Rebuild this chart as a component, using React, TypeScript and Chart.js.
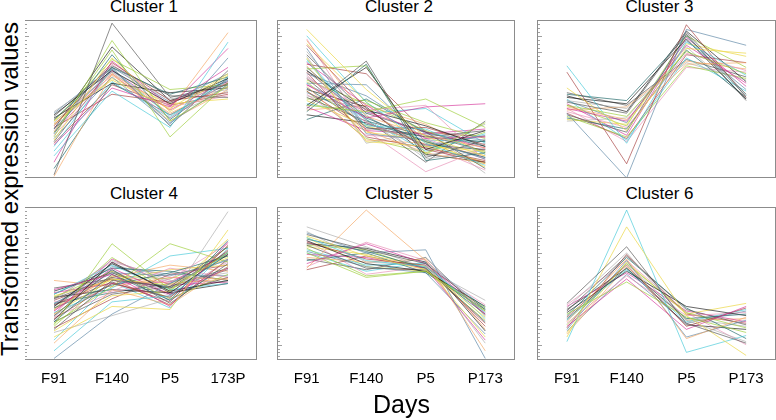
import React, { useEffect, useRef } from 'react';
import { Chart, registerables } from 'chart.js';
Chart.register(...registerables);

// ---------- data ----------
const daysTop = ['F91', 'F140', 'P5', 'P173'];
const daysC4 = ['F91', 'F140', 'P5', '173P'];
const daysC5 = ['F91', 'F140', 'P5', 'P173'];
const daysC6 = ['F91', 'F140', 'P5', 'P173'];

const titles = ['Cluster 1', 'Cluster 2', 'Cluster 3', 'Cluster 4', 'Cluster 5', 'Cluster 6'];
const yTitle = 'Transformed expression values';
const xTitle = 'Days';

const yMin = 0;
const yMax = 10;
const yMinorStep = 0.25;

// each row: value at F91, F140, P5, P173
const cluster1 = [
  [0.2, 9.8, 5.1, 5.9], [2.6, 8.7, 3.6, 5.8], [2.4, 7.6, 4.2, 6.5], [1.4, 5.5, 3.2, 8.6],
  [2.1, 5.7, 4.5, 8.2], [0.1, 6.6, 4.3, 9.2], [3.7, 7.0, 5.3, 6.4], [4.0, 6.8, 4.7, 6.3],
  [3.3, 7.3, 4.9, 5.4], [3.1, 6.9, 3.5, 5.9], [2.7, 6.6, 3.8, 6.1], [3.5, 6.7, 5.0, 5.6],
  [3.9, 7.1, 5.2, 5.1], [2.9, 8.1, 2.6, 6.0], [3.6, 6.2, 4.4, 6.6], [2.0, 6.9, 3.9, 6.2],
  [1.0, 7.4, 4.6, 7.0], [3.4, 6.5, 4.1, 5.8], [2.8, 7.8, 3.7, 6.3], [3.8, 6.0, 5.4, 5.7],
  [3.2, 5.3, 4.8, 6.0], [2.5, 6.4, 3.4, 7.6], [3.0, 7.2, 4.5, 5.2], [4.2, 6.7, 4.0, 5.5],
  [2.3, 7.0, 3.3, 6.8], [3.6, 7.5, 5.6, 5.9], [3.4, 6.3, 4.7, 5.0], [1.7, 6.1, 3.8, 6.4],
  [2.9, 6.8, 4.3, 6.2], [3.7, 6.6, 3.6, 5.6], [0.6, 6.0, 4.0, 6.0], [3.1, 8.3, 4.9, 6.1],
  [2.2, 5.9, 4.6, 5.3], [4.1, 7.0, 4.8, 6.6],
];

const cluster2 = [
  [4.4, 7.4, 1.3, 2.4], [4.6, 4.2, 5.0, 3.2], [9.4, 5.6, 2.6, 1.4], [9.0, 4.8, 2.2, 0.8],
  [5.9, 3.8, 4.5, 4.7], [8.7, 3.9, 2.7, 1.9], [4.2, 7.2, 1.1, 1.6], [4.6, 7.0, 1.8, 3.0],
  [8.4, 4.4, 1.8, 1.0], [8.2, 2.8, 2.4, 1.2], [6.3, 4.3, 4.6, 1.1], [8.0, 3.6, 1.4, 2.2],
  [7.8, 4.1, 2.9, 0.6], [6.9, 7.1, 1.5, 3.5], [7.6, 2.3, 2.0, 1.7], [7.5, 3.3, 3.1, 1.5],
  [7.3, 4.6, 2.5, 2.6], [7.1, 3.0, 1.6, 0.9], [7.0, 3.8, 2.3, 1.3], [6.8, 4.3, 3.3, 2.0],
  [6.7, 2.6, 1.9, 1.1], [6.6, 5.2, 2.8, 2.4], [6.5, 3.5, 2.1, 0.5], [6.4, 4.0, 1.2, 1.8],
  [6.3, 3.2, 2.6, 3.0], [6.2, 4.7, 3.0, 1.6], [6.1, 2.9, 2.4, 0.7], [6.0, 3.7, 1.7, 2.8],
  [5.9, 4.2, 2.9, 1.9], [5.8, 2.4, 2.2, 1.4], [5.7, 3.4, 2.6, 2.3], [5.6, 4.5, 1.5, 1.0],
  [5.5, 3.1, 3.2, 2.1], [5.4, 3.9, 2.0, 2.7], [5.3, 2.7, 2.5, 1.2], [5.2, 4.4, 1.9, 3.4],
  [5.1, 3.6, 2.7, 1.7], [5.0, 4.9, 3.5, 2.5], [4.9, 3.3, 2.3, 0.9], [4.7, 4.1, 4.4, 2.2],
  [4.5, 3.0, 2.8, 3.1], [4.3, 4.6, 3.4, 1.5], [3.7, 5.0, 2.9, 2.0], [4.0, 3.5, 2.1, 1.8],
  [7.2, 6.6, 2.9, 2.6], [6.0, 5.9, 2.3, 1.3], [8.8, 3.0, 0.4, 1.9], [7.7, 2.2, 3.0, 0.3],
  [6.8, 3.7, 1.0, 3.6], [5.5, 2.5, 1.6, 2.9], [8.5, 4.8, 2.0, 1.0], [7.4, 3.2, 2.4, 2.3],
];

const cluster3 = [
  [4.8, 4.1, 9.2, 5.3], [4.6, 3.9, 8.0, 6.6], [5.7, 3.0, 8.2, 7.9], [7.1, 2.2, 8.6, 6.5],
  [4.4, 3.6, 8.4, 6.0], [4.5, 3.7, 7.2, 7.3], [5.3, 4.9, 9.0, 5.2], [5.1, 4.7, 8.8, 5.0],
  [6.7, 0.9, 9.7, 5.1], [4.1, 0.0, 9.4, 8.4], [4.2, 3.2, 7.9, 6.8], [4.9, 4.4, 7.3, 6.2],
  [4.0, 2.9, 9.1, 4.9], [3.9, 2.6, 7.1, 6.3], [3.7, 3.4, 8.5, 7.7], [5.0, 2.4, 7.6, 5.5],
  [4.7, 2.7, 8.9, 5.8], [4.3, 4.5, 7.4, 6.9], [3.8, 3.1, 8.1, 5.1], [5.2, 4.2, 9.3, 6.1],
  [4.1, 2.5, 7.8, 7.3], [4.9, 3.5, 8.7, 5.6], [4.4, 2.3, 7.0, 6.7], [3.6, 3.8, 8.3, 5.0],
  [5.4, 4.6, 7.5, 6.4], [4.6, 3.3, 9.0, 7.0],
];

const cluster4 = [
  [2.0, 5.2, 4.8, 7.4], [2.3, 7.6, 4.6, 7.0], [1.5, 3.5, 3.3, 8.5], [0.6, 3.8, 4.2, 7.0],
  [4.6, 5.6, 3.5, 7.7], [1.1, 4.6, 3.6, 6.1], [2.5, 5.6, 3.9, 7.8], [2.6, 6.4, 4.4, 6.9],
  [2.7, 5.0, 4.1, 7.2], [0.1, 3.0, 5.0, 6.6], [2.8, 4.4, 5.3, 7.6], [1.8, 2.9, 4.0, 9.7],
  [2.9, 5.9, 3.7, 6.3], [2.4, 4.8, 7.6, 6.4], [3.0, 5.3, 4.9, 6.7], [3.1, 4.7, 6.8, 7.3],
  [3.2, 6.0, 4.3, 6.0], [3.3, 5.5, 5.0, 5.3], [3.4, 4.9, 5.7, 6.8], [3.5, 6.3, 4.5, 5.2],
  [3.6, 5.1, 3.8, 7.5], [3.7, 5.7, 5.5, 6.5], [3.8, 4.5, 6.0, 5.4], [3.9, 6.5, 5.2, 5.1],
  [4.0, 5.4, 4.7, 7.1], [4.1, 5.8, 4.0, 5.6], [4.2, 5.2, 5.9, 6.2], [4.3, 6.2, 4.6, 5.0],
  [4.4, 5.0, 5.1, 6.9], [5.2, 4.8, 5.4, 5.3], [4.3, 6.0, 5.8, 5.2], [4.1, 4.6, 4.4, 5.0],
  [3.9, 5.3, 3.6, 6.6], [3.6, 6.1, 5.6, 5.5], [3.2, 5.8, 4.2, 6.4], [2.8, 6.3, 5.1, 5.7],
  [2.5, 4.3, 4.8, 6.0], [2.2, 5.5, 5.3, 6.8], [1.9, 4.2, 4.5, 7.9], [1.3, 5.1, 3.4, 7.3],
  [3.0, 6.6, 4.9, 5.1], [3.4, 5.4, 6.2, 5.8], [3.7, 4.4, 5.0, 7.0], [4.5, 5.7, 4.3, 5.4],
  [2.1, 4.0, 5.6, 6.2], [3.5, 5.9, 3.9, 6.1], [4.0, 6.4, 5.4, 5.0], [2.9, 5.0, 4.1, 6.5],
  [4.7, 5.3, 4.7, 5.9], [3.3, 6.7, 4.5, 7.4],
];

const cluster5 = [
  [8.2, 7.2, 6.3, 3.3], [7.3, 5.5, 5.8, 3.2], [8.1, 6.8, 5.9, 2.8], [8.0, 6.5, 6.1, 3.1],
  [6.3, 7.6, 6.3, 3.0], [6.0, 9.8, 6.5, 0.6], [7.9, 7.1, 6.0, 2.5], [7.8, 6.3, 5.8, 3.5],
  [7.7, 6.6, 6.2, 2.2], [8.3, 7.0, 7.2, 0.1], [6.1, 7.7, 6.5, 3.1], [8.7, 7.4, 6.0, 3.9],
  [7.5, 6.0, 5.9, 3.0], [7.0, 5.4, 5.8, 3.4], [7.4, 6.9, 6.1, 1.5], [7.2, 6.2, 6.3, 2.7],
  [6.9, 6.7, 6.0, 1.3], [6.7, 6.4, 6.6, 2.0], [6.5, 7.0, 5.7, 3.3], [7.6, 7.3, 6.4, 1.9],
  [5.9, 6.8, 6.0, 2.4], [7.1, 6.1, 5.7, 1.7], [7.8, 5.6, 6.1, 3.6], [8.4, 6.4, 6.2, 1.1],
  [6.6, 5.9, 6.7, 2.9], [7.5, 7.2, 5.9, 3.2], [8.0, 6.1, 5.8, 2.6], [7.0, 5.8, 6.4, 3.4],
];

const cluster6 = [
  [3.7, 7.4, 2.4, 1.1], [3.0, 5.1, 2.8, 1.8], [1.5, 8.7, 2.9, 0.3], [1.2, 9.8, 0.5, 1.6],
  [2.2, 5.3, 2.0, 3.5], [2.5, 6.6, 1.4, 2.8], [2.7, 6.0, 2.7, 3.0], [3.1, 5.8, 3.5, 2.9],
  [2.8, 6.2, 2.2, 3.4], [2.0, 6.5, 1.5, 2.6], [2.4, 5.5, 2.9, 3.1], [3.4, 7.0, 2.6, 1.2],
  [3.2, 6.8, 3.3, 2.3], [2.3, 6.3, 3.1, 2.1], [1.8, 6.4, 3.0, 3.7], [2.6, 5.9, 2.5, 3.3],
  [3.5, 5.7, 3.2, 2.5], [1.7, 6.1, 2.6, 2.7], [2.9, 6.7, 3.4, 1.4], [3.3, 6.0, 2.3, 2.0],
  [2.1, 6.9, 3.0, 2.4], [1.9, 5.6, 2.4, 3.2], [3.6, 6.5, 3.1, 1.0], [2.6, 6.3, 2.7, 2.2],
];

// ---------- style ----------
const FONT = '"Liberation Sans", Arial, Helvetica, sans-serif';
const palette = [
  'rgba(80,80,80,0.65)',
  'rgba(154,205,50,0.65)',
  'rgba(236,218,80,0.75)',
  'rgba(64,200,215,0.65)',
  'rgba(208,32,144,0.6)',
  'rgba(244,164,96,0.65)',
  'rgba(40,110,110,0.7)',
  'rgba(20,20,20,0.65)',
  'rgba(165,60,60,0.65)',
  'rgba(100,140,170,0.7)',
  'rgba(230,140,180,0.65)',
  'rgba(170,170,170,0.65)',
];
const cols = [
  { left: 25, right: 256 },
  { left: 277, right: 514 },
  { left: 537, right: 775 },
];
const rows = [
  { top: 20, bottom: 177 },
  { top: 207, bottom: 359 },
];
const X_AXIS_H = 30;

const panelBox = {
  id: 'panelBox',
  afterDatasetsDraw(chart: any, _args: any, opts: any) {
    const { ctx, chartArea } = chart;
    const { left, right, top, bottom } = chartArea;
    const y = chart.scales.y;
    ctx.save();
    ctx.strokeStyle = '#8c8c8c';
    ctx.lineWidth = 1;
    ctx.beginPath();
    ctx.moveTo(left, top + 0.5);
    ctx.lineTo(right, top + 0.5);
    ctx.moveTo(left, bottom - 0.5);
    ctx.lineTo(right, bottom - 0.5);
    ctx.moveTo(right - 0.5, top);
    ctx.lineTo(right - 0.5, bottom);
    if (opts.leftEdge) {
      ctx.moveTo(left + 0.5, top);
      ctx.lineTo(left + 0.5, bottom);
    }
    ctx.stroke();
    ctx.strokeStyle = '#a0a0a0';
    const start = opts.leftEdge ? left + 1 : left;
    y.ticks.forEach((t: any) => {
      const py = Math.round(y.getPixelForValue(t.value)) + 0.5;
      if (py < top + 1 || py > bottom - 1) return;
      const major = Math.abs(t.value - Math.round(t.value)) < 1e-6;
      ctx.beginPath();
      ctx.moveTo(start, py);
      ctx.lineTo(start + (major ? 4 : 2), py);
      ctx.stroke();
    });
    ctx.restore();
  },
};

type PanelProps = {
  series: number[][];
  labels: string[];
  title: string;
  col: { left: number; right: number };
  row: { top: number; bottom: number };
  showX: boolean;
  leftEdge: boolean;
};

function Panel({ series, labels, title, col, row, showX, leftEdge }: PanelProps) {
  const ref = useRef<HTMLCanvasElement>(null);
  const w = col.right - col.left + 1;
  const xh = showX ? X_AXIS_H : 0;
  const h = row.bottom - row.top + 1 + xh;
  useEffect(() => {
    const chart = new Chart(ref.current as HTMLCanvasElement, {
      type: 'line',
      data: {
        labels,
        datasets: series.map((v, i) => ({
          data: v,
          borderColor: palette[i % palette.length],
          borderWidth: 1,
          pointRadius: 0,
          fill: false,
          tension: 0,
        })),
      },
      options: {
        animation: false,
        responsive: false,
        maintainAspectRatio: false,
        devicePixelRatio: 1,
        events: [],
        layout: { padding: 0, autoPadding: false },
        plugins: {
          legend: { display: false },
          tooltip: { enabled: false },
          title: { display: false },
          panelBox: { leftEdge },
        } as any,
        scales: {
          x: {
            type: 'category',
            offset: true,
            display: showX,
            grid: { display: false, drawTicks: false },
            border: { display: false },
            ticks: {
              color: '#000',
              font: { family: FONT, size: 15 },
              padding: 10,
              maxRotation: 0,
              autoSkip: false,
            },
            afterFit: (s: any) => {
              s.height = xh;
            },
          },
          y: {
            type: 'linear',
            min: yMin,
            max: yMax,
            grid: { display: false, drawTicks: false },
            border: { display: false },
            ticks: { display: false, stepSize: yMinorStep, maxTicksLimit: 1000 },
            afterFit: (s: any) => {
              s.width = 0;
            },
          },
        },
      },
      plugins: [panelBox],
    } as any);
    return () => chart.destroy();
  }, []);
  const cx = (col.left + col.right) / 2 + 3.5;
  return (
    <>
      <div
        style={{
          position: 'absolute',
          left: cx - 80,
          top: row.top - 22.6,
          width: 160,
          textAlign: 'center',
          fontFamily: FONT,
          fontSize: 17,
          lineHeight: '20px',
          color: '#000',
          whiteSpace: 'nowrap',
        }}
      >
        {title}
      </div>
      <canvas
        ref={ref}
        width={w}
        height={h}
        style={{ position: 'absolute', left: col.left, top: row.top, width: w, height: h }}
      />
    </>
  );
}

export default function App() {
  const panels = [
    { series: cluster1, labels: daysTop, c: 0, r: 0 },
    { series: cluster2, labels: daysTop, c: 1, r: 0 },
    { series: cluster3, labels: daysTop, c: 2, r: 0 },
    { series: cluster4, labels: daysC4, c: 0, r: 1 },
    { series: cluster5, labels: daysC5, c: 1, r: 1 },
    { series: cluster6, labels: daysC6, c: 2, r: 1 },
  ];
  return (
    <div
      style={{
        position: 'absolute',
        left: 0,
        top: 0,
        width: 776,
        height: 420,
        background: '#fff',
        overflow: 'hidden',
      }}
    >
      {panels.map((p, i) => (
        <Panel
          key={i}
          series={p.series}
          labels={p.labels}
          title={titles[i]}
          col={cols[p.c]}
          row={rows[p.r]}
          showX={p.r === 1}
          leftEdge={p.c !== 0}
        />
      ))}
      <div
        style={{
          position: 'absolute',
          left: 9.6 - 200,
          top: 189 - 14,
          width: 400,
          height: 28,
          lineHeight: '28px',
          textAlign: 'center',
          fontFamily: FONT,
          fontSize: 24,
          color: '#000',
          whiteSpace: 'nowrap',
          transform: 'rotate(-90deg)',
          transformOrigin: '50% 50%',
        }}
      >
        {yTitle}
      </div>
      <div
        style={{
          position: 'absolute',
          left: 401.5 - 100,
          top: 389.3,
          width: 200,
          lineHeight: '30px',
          textAlign: 'center',
          fontFamily: FONT,
          fontSize: 25,
          color: '#000',
        }}
      >
        {xTitle}
      </div>
    </div>
  );
}
